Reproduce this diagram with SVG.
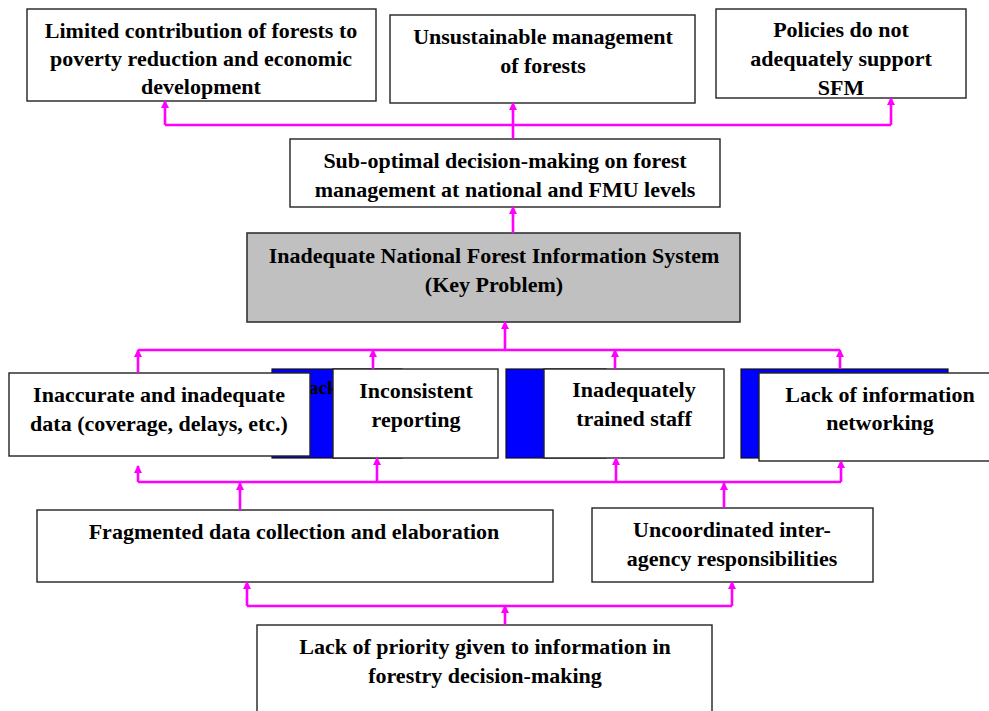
<svg xmlns="http://www.w3.org/2000/svg" width="989" height="711" viewBox="0 0 989 711">
<style>
.box{fill:#fff;stroke:#222;stroke-width:1.4}
.key{fill:#c0c0c0;stroke:#333;stroke-width:1.6}
.blue{fill:#0000ff;stroke:#111;stroke-width:1.2}
text{font-family:"Liberation Serif","Times New Roman",serif;font-weight:bold;font-size:22px;fill:#000;text-anchor:middle}
.con{fill:none;stroke:#ff00ff;stroke-width:2.6}
.arr{fill:none;stroke:#ff00ff;stroke-width:2.6;marker-end:url(#ah)}
</style>
<defs>
<marker id="ah" viewBox="0 0 8 8" refX="7" refY="4" markerWidth="8" markerHeight="8" markerUnits="userSpaceOnUse" orient="auto">
<path d="M0,0 L8,4 L0,8 z" fill="#ff00ff"/>
</marker>
</defs>
<rect width="989" height="711" fill="#fff"/>

<g id="n-limited">
<rect class="box" x="27" y="9" width="349" height="92"/>
<text x="201" y="38">Limited contribution of forests to</text>
<text x="201" y="66">poverty reduction and economic</text>
<text x="201" y="94">development</text>
</g>
<g id="n-unsustainable">
<rect class="box" x="390" y="15" width="305" height="88"/>
<text x="543" y="44">Unsustainable management</text>
<text x="543" y="73">of forests</text>
</g>
<g id="n-policies">
<rect class="box" x="716" y="9" width="250" height="89"/>
<text x="841" y="37">Policies do not</text>
<text x="841" y="66">adequately support</text>
<text x="841" y="95">SFM</text>
</g>
<g id="n-suboptimal">
<rect class="box" x="290" y="139" width="430" height="68"/>
<text x="505" y="168">Sub-optimal decision-making on forest</text>
<text x="505" y="197">management at national and FMU levels</text>
</g>
<g id="n-key">
<rect class="key" x="247" y="233" width="493" height="89"/>
<text x="494" y="263">Inadequate National Forest Information System</text>
<text x="494" y="292">(Key Problem)</text>
</g>

<g id="n-hidden">
<rect class="blue" x="272" y="369" width="130" height="89"/>
<text x="309" y="394" style="text-anchor:start;font-size:19px">ack</text>
</g>
<g id="n-inaccurate">
<rect class="box" x="9" y="373" width="301" height="83"/>
<text x="159" y="402">Inaccurate and inadequate</text>
<text x="159" y="431">data (coverage, delays, etc.)</text>
</g>
<g id="n-inconsistent">
<rect class="box" x="333" y="369" width="165" height="89"/>
<text x="416" y="398">Inconsistent</text>
<text x="416" y="427">reporting</text>
</g>
<g id="n-staff">
<rect class="blue" x="506" y="369" width="100" height="89"/>
<rect class="box" x="544" y="369" width="180" height="89"/>
<text x="634" y="397">Inadequately</text>
<text x="634" y="426">trained staff</text>
</g>
<g id="n-networking">
<rect class="blue" x="741" y="369" width="207" height="89"/>
<rect class="box" x="759" y="373" width="243" height="88"/>
<text x="880" y="402">Lack of information</text>
<text x="880" y="430">networking</text>
</g>

<g id="n-fragmented">
<rect class="box" x="37" y="510" width="516" height="72"/>
<text x="294" y="539">Fragmented data collection and elaboration</text>
</g>
<g id="n-uncoordinated">
<rect class="box" x="592" y="508" width="281" height="74"/>
<text x="732" y="537">Uncoordinated inter-</text>
<text x="732" y="566">agency responsibilities</text>
</g>
<g id="n-priority">
<rect class="box" x="257" y="625" width="455" height="100"/>
<text x="485" y="654">Lack of priority given to information in</text>
<text x="485" y="683">forestry decision-making</text>
</g>

<g id="connectors">
<path class="con" d="M513,139 V125 M165,125 H891"/>
<path class="arr" d="M165,125 V101"/>
<path class="arr" d="M513,125 V103"/>
<path class="arr" d="M891,125 V98"/>
<path class="arr" d="M513,233 V207"/>
<path class="arr" d="M505,350 V322"/>
<path class="con" d="M138,350 H840"/>
<path class="arr" d="M138,373 V350"/>
<path class="arr" d="M373,369 V350"/>
<path class="arr" d="M615,369 V350"/>
<path class="arr" d="M840,369 V350"/>
<path class="con" d="M138,482 H841"/>
<path class="arr" d="M138,482 V466"/>
<path class="arr" d="M377,482 V458"/>
<path class="arr" d="M616,482 V458"/>
<path class="arr" d="M841,482 V461"/>
<path class="arr" d="M240,510 V483"/>
<path class="arr" d="M724,508 V483"/>
<path class="con" d="M247,606 H732"/>
<path class="arr" d="M247,606 V582"/>
<path class="arr" d="M732,606 V582"/>
<path class="arr" d="M505,625 V606"/>
</g>
</svg>
